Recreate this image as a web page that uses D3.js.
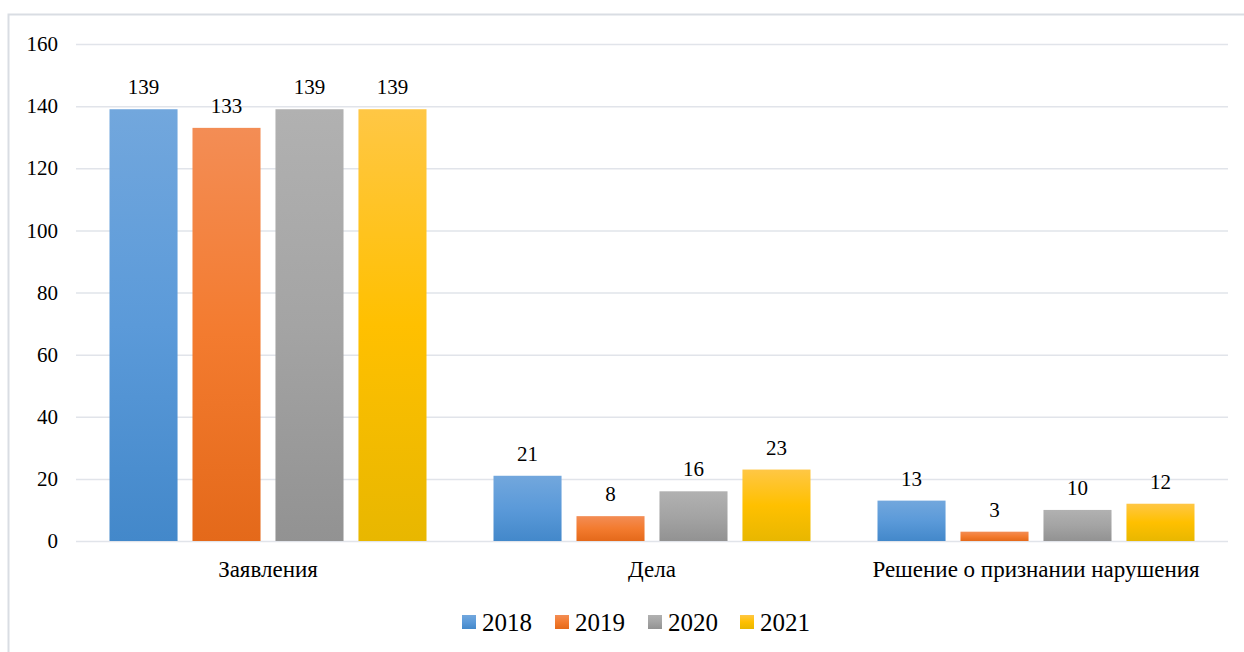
<!DOCTYPE html>
<html><head><meta charset="utf-8">
<script src="https://cdn.jsdelivr.net/npm/d3@7/dist/d3.min.js"></script>
</head><body style="margin:0"><svg id="c" width="1244" height="652" style="display:block"></svg>
<script>
const categories = ["Заявления", "Дела", "Решение о признании нарушения"];
const years = ["2018", "2019", "2020", "2021"];
const v2018 = [139, 21, 13];
const v2019 = [133, 8, 3];
const v2020 = [139, 16, 10];
const v2021 = [139, 23, 12];
const yTicks = [0, 20, 40, 60, 80, 100, 120, 140, 160];
const seriesVals = [v2018, v2019, v2020, v2021];
const grads = [
  ["#72a7dd", "#5b9ad9", "#4388ca"],
  ["#f38d55", "#f37b2f", "#e4691a"],
  ["#b1b1b1", "#a4a4a4", "#929292"],
  ["#ffc745", "#ffc000", "#e8b700"]
];

const FF = '"Times New Roman", Tinos, "Liberation Serif", serif';
const svgEl = d3.select("#c");
const defs = svgEl.append("defs");
grads.forEach((g, i) => {
  const lg = defs.append("linearGradient").attr("id", "g" + i).attr("x1", 0).attr("y1", 0).attr("x2", 0).attr("y2", 1);
  lg.append("stop").attr("offset", "0%").attr("stop-color", g[0]);
  lg.append("stop").attr("offset", "50%").attr("stop-color", g[1]);
  lg.append("stop").attr("offset", "100%").attr("stop-color", g[2]);
});

svgEl.append("rect").attr("x", 8.5).attr("y", 14.5).attr("width", 1300).attr("height", 700)
  .attr("fill", "none").attr("stroke", "#d9dde3").attr("stroke-width", 2);

const pLeft = 76, pRight = 1228, pTop = 44, pBottom = 541;
const yS = d3.scaleLinear().domain([0, 160]).range([pBottom, pTop]);
const x0 = d3.scaleBand().domain(categories).range([pLeft, pRight]).paddingInner(0).paddingOuter(0);
const x1 = d3.scaleBand().domain(years).range([33.5, x0.bandwidth() - 33.5]).paddingInner(0.18).paddingOuter(0);

const ga = svgEl.append("g").attr("transform", `translate(${pLeft},0)`)
  .call(d3.axisLeft(yS).tickValues(yTicks).tickSize(-(pRight - pLeft)).tickPadding(18));
ga.attr("font-family", FF).attr("font-size", 21);
ga.select(".domain").remove();
ga.selectAll(".tick line").attr("stroke", "#e1e4ea").attr("stroke-width", 1.5);
ga.selectAll(".tick text").attr("fill", "#000").style("font-family", FF).style("font-size", "21px");

const groups = svgEl.append("g").selectAll("g").data(categories).join("g")
  .attr("transform", d => `translate(${x0(d)},0)`);

years.forEach((yr, si) => {
  groups.append("rect")
    .attr("x", x1(yr)).attr("width", x1.bandwidth())
    .attr("y", (d, ci) => yS(seriesVals[si][ci]))
    .attr("height", (d, ci) => pBottom - yS(seriesVals[si][ci]))
    .attr("fill", `url(#g${si})`);
  groups.append("text")
    .attr("x", x1(yr) + x1.bandwidth() / 2)
    .attr("y", (d, ci) => yS(seriesVals[si][ci]) - 15)
    .attr("text-anchor", "middle").attr("fill", "#000")
    .style("font-family", FF).style("font-size", "21px")
    .text((d, ci) => seriesVals[si][ci]);
});

const gx = svgEl.append("g").attr("transform", `translate(0,${pBottom})`)
  .call(d3.axisBottom(x0).tickSize(0).tickPadding(20));
gx.attr("font-family", FF).attr("font-size", 23);
gx.select(".domain").remove();
gx.selectAll(".tick text").attr("fill", "#000").style("font-family", FF).style("font-size", "23px");

const legX = [462, 555, 648, 740];
const leg = svgEl.append("g");
years.forEach((yr, i) => {
  leg.append("rect").attr("x", legX[i]).attr("y", 615).attr("width", 14).attr("height", 14).attr("fill", `url(#g${i})`);
  leg.append("text").attr("x", legX[i] + 20).attr("y", 631).attr("fill", "#000")
    .style("font-family", FF).style("font-size", "25px").text(yr);
});
</script></body></html>
